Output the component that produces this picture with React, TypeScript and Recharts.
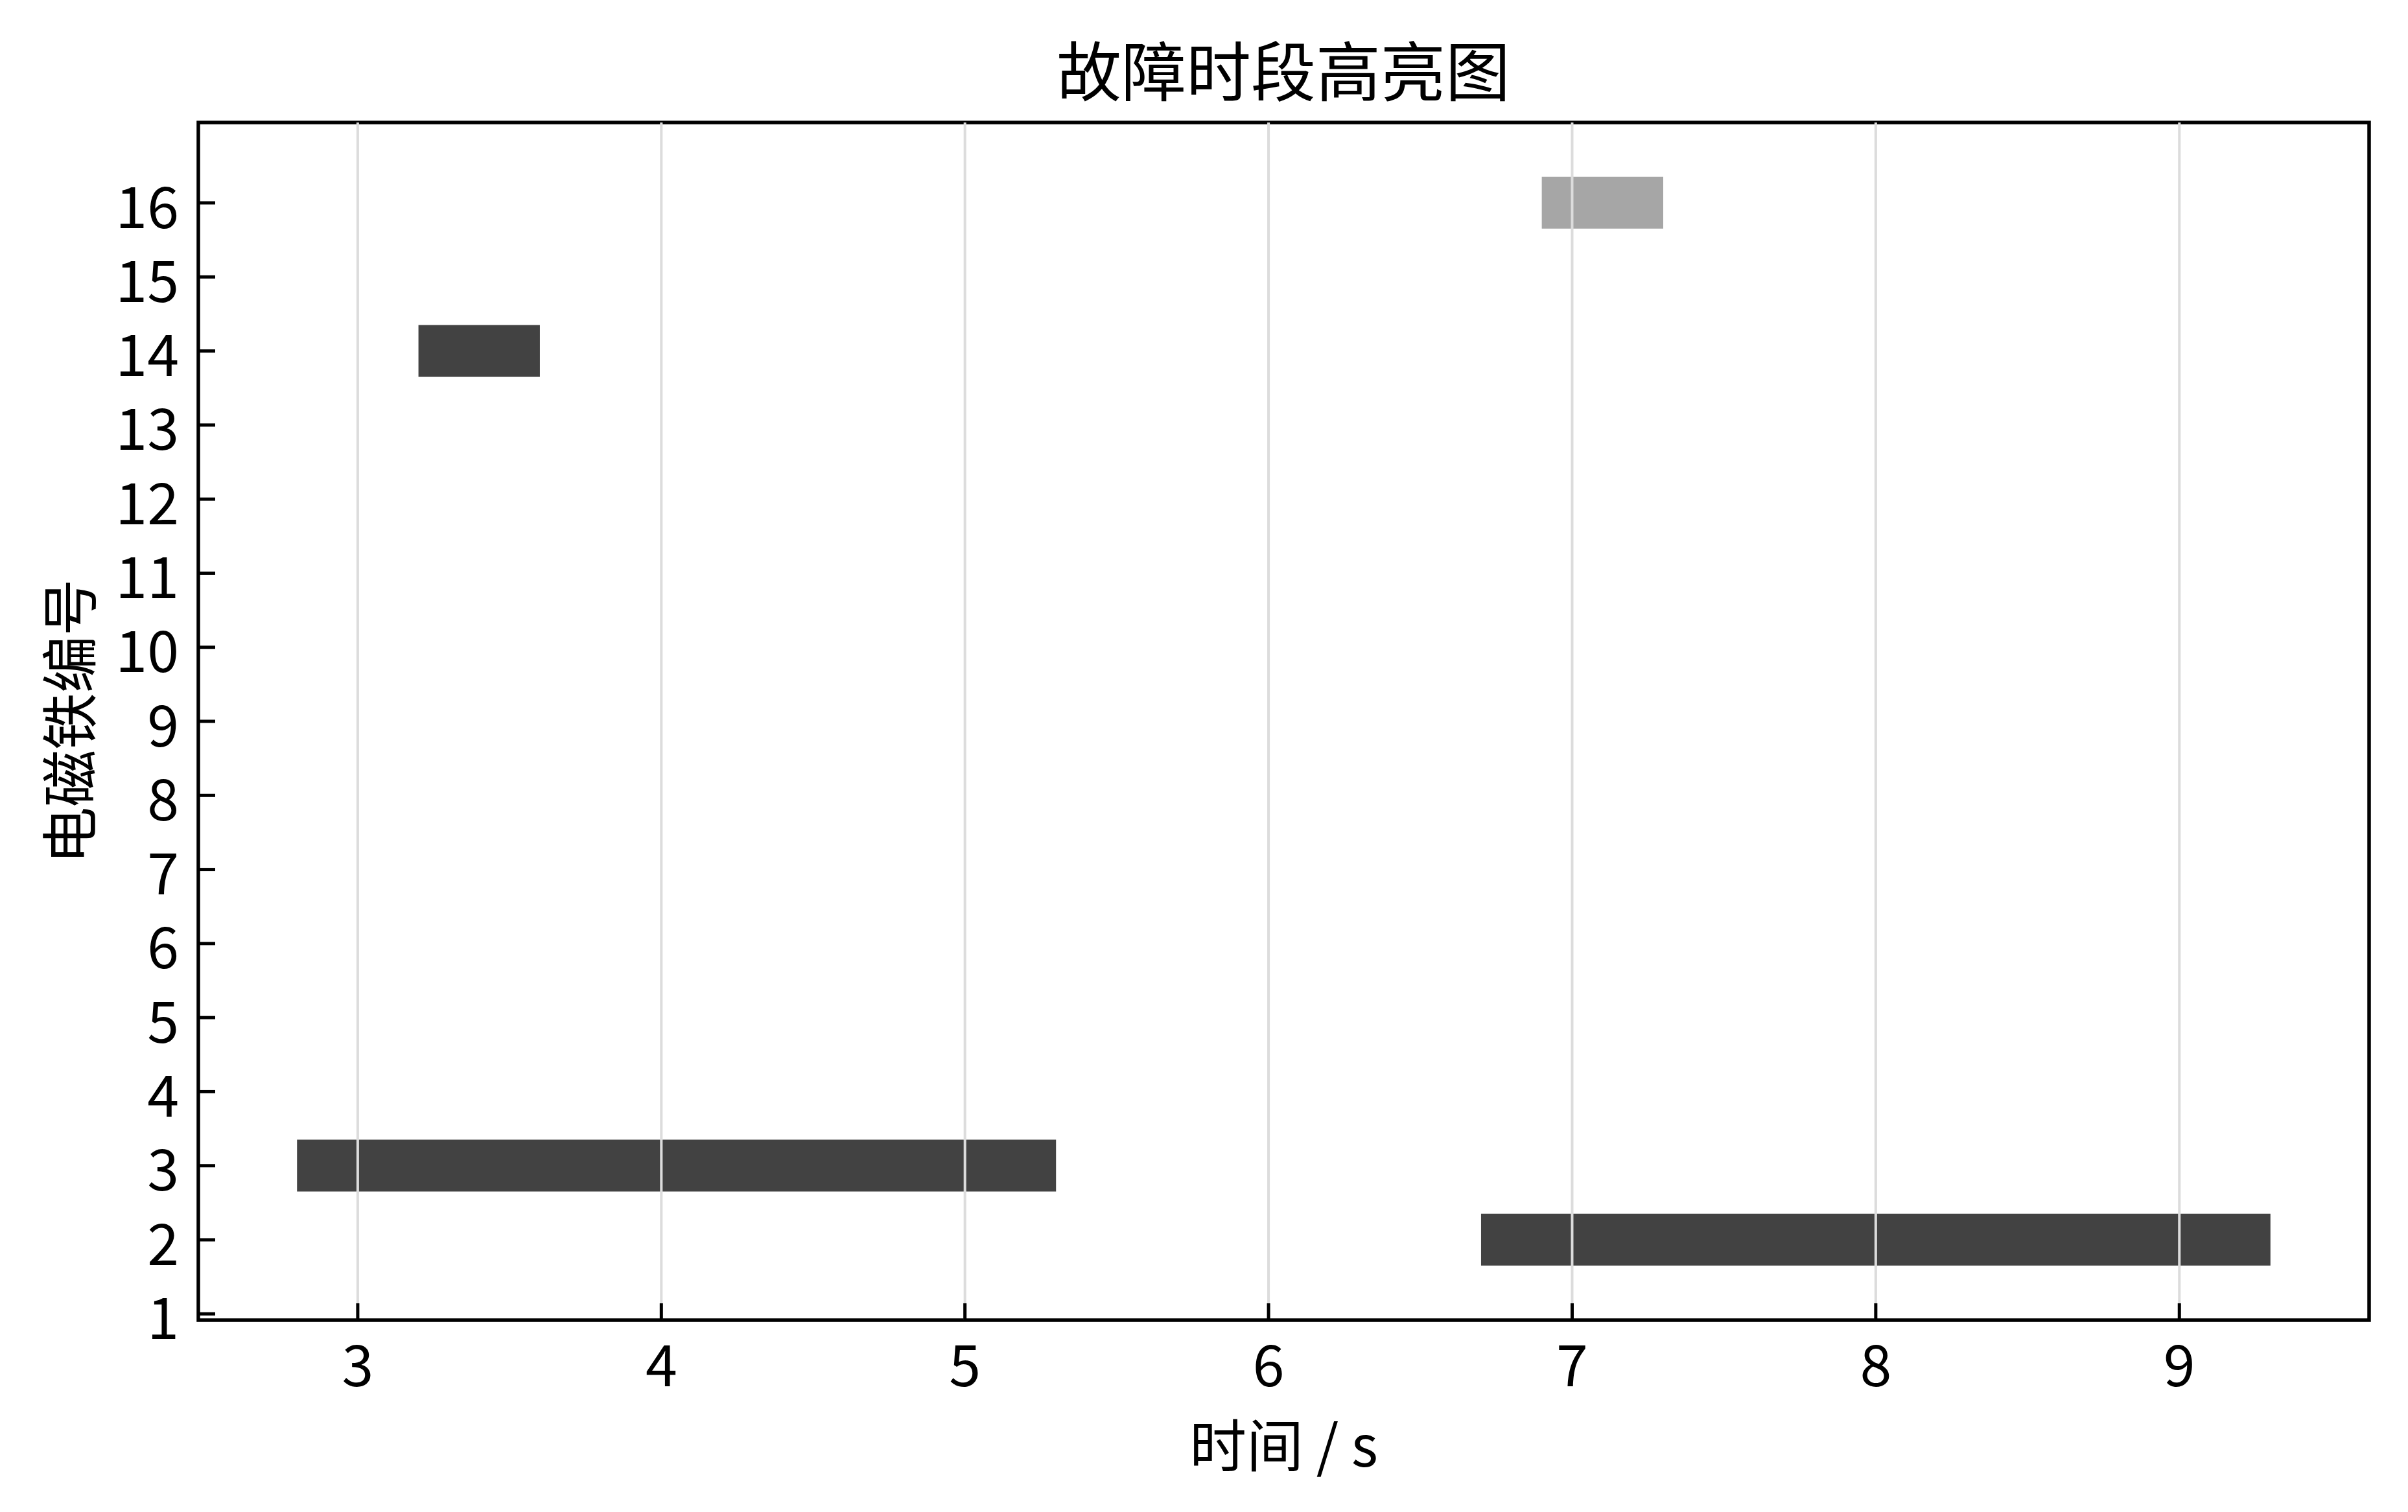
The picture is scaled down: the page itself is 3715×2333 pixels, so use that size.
import React from 'react';
import {
  ComposedChart,
  Bar,
  Cell,
  XAxis,
  YAxis,
  ReferenceLine,
  ReferenceArea,
  Label,
} from 'recharts';

// ---- data ----
const magnetIds = [16, 14, 3, 2];
const startTimes = [6.9, 3.2, 2.8, 6.7];
const endTimes = [7.3, 3.6, 5.3, 9.3];
const barColors = ['#a6a6a6', '#424242', '#424242', '#424242'];
const xTicks = [3, 4, 5, 6, 7, 8, 9];
const yTicks = [1, 2, 3, 4, 5, 6, 7, 8, 9, 10, 11, 12, 13, 14, 15, 16];
const xDomain: [number, number] = [2.475, 9.625];
const yDomain: [number, number] = [0.915, 17.085];
const titleText = '故障时段高亮图';
const xLabelText = '时间 / s';
const yLabelText = '电磁铁编号';

const rows = magnetIds.map((id, i) => ({
  id,
  span: [startTimes[i], endTimes[i]],
}));

const FONT = '"Noto Sans CJK SC", "Noto Sans", sans-serif';
const W = 3715;
const H = 2333;

const XTick = (props: any) => {
  const { x, y, payload } = props;
  return (
    <g>
      <line x1={x} y1={y} x2={x} y2={y - 26} stroke="#000" strokeWidth={5} />
      <text
        x={x}
        y={y + 63}
        textAnchor="middle"
        dominantBaseline="central"
        fontSize={88}
        fontFamily={FONT}
        fill="#000"
      >
        {payload.value}
      </text>
    </g>
  );
};

const YTick = (props: any) => {
  const { x, y, payload } = props;
  return (
    <g>
      <line x1={x} y1={y} x2={x + 26} y2={y} stroke="#000" strokeWidth={5} />
      <text
        x={x - 30}
        y={y}
        textAnchor="end"
        dominantBaseline="central"
        fontSize={88}
        fontFamily={FONT}
        fill="#000"
      >
        {payload.value}
      </text>
    </g>
  );
};

export default function App() {
  return (
    <div
      style={{
        position: 'absolute',
        left: 0,
        top: 0,
        width: W,
        height: H,
        background: '#fff',
      }}
    >
      <ComposedChart
        width={W}
        height={H}
        data={rows}
        layout="vertical"
        margin={{ top: 189, right: 60, bottom: 0, left: 0 }}
      >
        <XAxis
          type="number"
          dataKey="span"
          domain={xDomain}
          ticks={xTicks}
          allowDataOverflow
          interval={0}
          height={296}
          axisLine={false}
          tickLine={false}
          tickSize={0}
          tickMargin={0}
          tick={<XTick />}
        >
          <Label
            content={(p: any) => {
              const vb = p.viewBox;
              return (
                <text
                  x={vb.x + vb.width / 2}
                  y={vb.y + 187}
                  textAnchor="middle"
                  dominantBaseline="central"
                  fontSize={88}
                  fontFamily={FONT}
                  fill="#000"
                >
                  {xLabelText}
                </text>
              );
            }}
          />
        </XAxis>
        <YAxis
          type="number"
          dataKey="id"
          domain={yDomain}
          ticks={yTicks}
          reversed
          allowDataOverflow
          interval={0}
          width={306}
          axisLine={false}
          tickLine={false}
          tickSize={0}
          tickMargin={0}
          tick={<YTick />}
        >
          <Label
            content={(p: any) => {
              const vb = p.viewBox;
              const cx = 101;
              const cy = vb.y + vb.height / 2;
              return (
                <text
                  x={cx}
                  y={cy}
                  textAnchor="middle"
                  dominantBaseline="central"
                  fontSize={88}
                  fontFamily={FONT}
                  fill="#000"
                  transform={`rotate(-90 ${cx} ${cy})`}
                >
                  {yLabelText}
                </text>
              );
            }}
          />
        </YAxis>
        <Bar dataKey="span" barSize={80} isAnimationActive={false}>
          {rows.map((r, i) => (
            <Cell key={r.id} fill={barColors[i]} />
          ))}
        </Bar>
        {xTicks.map((t) => (
          <ReferenceLine key={t} x={t} stroke="#dcdcdc" strokeWidth={4} />
        ))}
        <ReferenceArea
          x1={xDomain[0]}
          x2={xDomain[1]}
          y1={yDomain[0]}
          y2={yDomain[1]}
          fill="none"
          fillOpacity={0}
          stroke="#000"
          strokeWidth={5.5}
          ifOverflow="visible"
        />
      </ComposedChart>
      <svg
        width={W}
        height={189}
        style={{ position: 'absolute', left: 0, top: 0, pointerEvents: 'none' }}
      >
        <text
          x={1980}
          y={104}
          textAnchor="middle"
          dominantBaseline="central"
          fontSize={100}
          fontFamily={FONT}
          fill="#000"
        >
          {titleText}
        </text>
      </svg>
    </div>
  );
}
